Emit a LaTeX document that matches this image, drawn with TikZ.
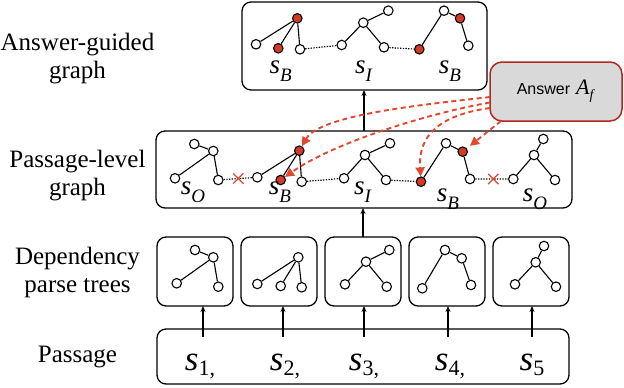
\documentclass[tikz,border=0pt]{standalone}
\usepackage{fontspec}
\setmainfont{Liberation Serif}
\newfontfamily\ansfont{Liberation Sans}
\usetikzlibrary{arrows.meta,shapes.misc}
\definecolor{nodered}{RGB}{214,58,38}
\definecolor{dashred}{RGB}{226,72,46}
\definecolor{ansborder}{RGB}{178,40,30}
\definecolor{ansfill}{RGB}{217,217,217}
\newcommand\gsv[1]{{\fontsize{27}{27}\selectfont\textit{s}\raisebox{-8pt}{\fontsize{19}{19}\selectfont\textit{#1}}}}
\newcommand\psv[1]{{\fontsize{35}{35}\selectfont\textit{s}\raisebox{-5pt}{\fontsize{22}{22}\selectfont #1}}}
\tikzset{
  wn/.style={circle,draw,line width=1.1pt,fill=white,minimum size=9.5pt,inner sep=0pt},
  rn/.style={wn,fill=nodered},
  tedge/.style={line width=1.1pt},
  dlink/.style={line width=1.2pt,dash pattern=on 1.3pt off 1.4pt},
  xmark/.style={cross out,draw=dashred,line width=1.2pt,minimum size=9pt,inner sep=0pt},
  panel/.style={draw,line width=1.3pt,rounded corners=9pt,outer sep=0pt,inner sep=0pt},
  arr/.style={line width=1.2pt,-{Stealth[length=6pt,width=5pt]}},
  rarr/.style={dashred,line width=1.9pt,dash pattern=on 5pt off 3.5pt,-{Triangle[length=9pt,width=9pt]}},
  lbl/.style={align=center,font=\fontsize{25}{28}\selectfont,inner sep=0pt},
  glbl/.style={anchor=base,inner sep=0pt},
}
\begin{document}
\begin{tikzpicture}[x=1pt,y=-1pt]
\useasboundingbox (0,0) rectangle (624,388);
% left labels
\node[lbl] (l1) at (77.5,59) {Answer-guided\\graph};
\node[lbl] (l2) at (77.5,176) {Passage-level\\graph};
\node[lbl] (l3) at (77.5,272) {Dependency\\parse trees};
\node[lbl] (l4) at (77.5,357) {Passage};
% panels
\node[panel,minimum width=245pt,minimum height=88pt] (top) at (364.5,46) {};
\node[panel,minimum width=416pt,minimum height=77pt] (pg) at (364,169.5) {};
\foreach \i/\cx in {1/195,2/279,3/363,4/447,5/531}
  \node[panel,minimum width=76pt,minimum height=69pt] (t\i) at (\cx,271.5) {};
\node[panel,minimum width=412pt,minimum height=55pt] (pas) at (363,356.5) {};
\node[draw=ansborder,fill=ansfill,line width=1.5pt,rounded corners=12pt,minimum width=132pt,minimum height=59pt,outer sep=0pt] (ans) at (556,91.5)
  {{\ansfont\fontsize{16}{16}\selectfont Answer}\hspace{6pt}{\fontsize{22}{22}\selectfont\textit{A}\raisebox{-5pt}{\fontsize{14}{14}\selectfont\textit{f}}}};
% passage labels
\node[glbl] (p1) at (200,370.7) {\psv{1,}};
\node[glbl] (p2) at (285,370.7) {\psv{2,}};
\node[glbl] (p3) at (364,370.7) {\psv{3,}};
\node[glbl] (p4) at (450,370.7) {\psv{4,}};
\node[glbl] (p5) at (532,370.7) {\psv{5}};
% arrows passage -> trees
\foreach \i/\ax in {1/203,2/283,3/364,4/448,5/532}{
  \coordinate (c\i) at (\ax,337);
  \draw[arr] (c\i) -- (c\i |- t\i.south);
}
% dependency trees
% tree 1
\node[wn] (d1a) at (195,250) {};
\node[wn] (d1b) at (213.3,257.3) {};
\node[wn] (d1c) at (176.7,283.3) {};
\node[wn] (d1d) at (218.3,286.7) {};
\draw[tedge] (d1a)--(d1b) (d1b)--(d1c) (d1b)--(d1d);
% tree 2
\node[wn] (d2a) at (298.3,257.3) {};
\node[wn] (d2b) at (257.3,284) {};
\node[wn] (d2c) at (280.7,286) {};
\node[wn] (d2d) at (301.7,287.3) {};
\draw[tedge] (d2a)--(d2b) (d2a)--(d2c) (d2a)--(d2d);
% tree 3
\node[wn] (d3a) at (389.3,250) {};
\node[wn] (d3b) at (366,261.7) {};
\node[wn] (d3c) at (345,284.3) {};
\node[wn] (d3d) at (386.7,286.7) {};
\draw[tedge] (d3a)--(d3b) (d3b)--(d3c) (d3b)--(d3d);
% tree 4
\node[wn] (d4a) at (445,250) {};
\node[wn] (d4b) at (461.7,258.3) {};
\node[wn] (d4c) at (422.3,288.3) {};
\node[wn] (d4d) at (471,285) {};
\draw[tedge] (d4a)--(d4b) (d4a)--(d4c) (d4b)--(d4d);
% tree 5
\node[wn] (d5a) at (544,246) {};
\node[wn] (d5b) at (535.7,262.3) {};
\node[wn] (d5c) at (515,284.3) {};
\node[wn] (d5d) at (556,286.7) {};
\draw[tedge] (d5a)--(d5b) (d5b)--(d5c) (d5b)--(d5d);
% arrows up
\draw[arr] (t3.north) -- (t3.north |- pg.south);
\draw[arr] (pg.north) -- (pg.north |- top.south);
% passage-level graph
\node[wn] (o1a) at (194.3,144) {};
\node[wn] (o1b) at (213.3,151) {};
\node[wn] (o1c) at (175,178.3) {};
\node[wn] (o1d) at (218.3,180) {};
\draw[tedge] (o1a)--(o1b) (o1b)--(o1c) (o1b)--(o1d);
\node[rn] (b1a) at (299.3,150.7) {};
\node[wn] (b1b) at (257.3,177.3) {};
\node[rn] (b1c) at (280.7,180) {};
\node[wn] (b1d) at (301.7,181.7) {};
\draw[tedge] (b1a)--(b1b) (b1a)--(b1c) (b1a)--(b1d);
\node[wn] (i1a) at (390,143.3) {};
\node[wn] (i1b) at (365,155) {};
\node[wn] (i1c) at (344,178.3) {};
\node[wn] (i1d) at (386,180) {};
\draw[tedge] (i1a)--(i1b) (i1b)--(i1c) (i1b)--(i1d);
\node[wn] (b2a) at (446,143.3) {};
\node[rn] (b2b) at (462.7,151.7) {};
\node[rn] (b2c) at (421,181.7) {};
\node[wn] (b2d) at (470,179) {};
\draw[tedge] (b2a)--(b2b) (b2a)--(b2c) (b2b)--(b2d);
\node[wn] (o2a) at (543.3,139) {};
\node[wn] (o2b) at (534,155) {};
\node[wn] (o2c) at (513.3,179) {};
\node[wn] (o2d) at (555,180) {};
\draw[tedge] (o2a)--(o2b) (o2b)--(o2c) (o2b)--(o2d);
\draw[dlink] (o1d)--(b1b) (b1d)--(i1c) (i1d)--(b2c) (b2d)--(o2c);
\node[xmark] (x1) at (238.3,178.5) {};
\node[xmark] (x2) at (493.3,179) {};
\node[glbl] (g1) at (193,194) {\gsv{O}};
\node[glbl] (g2) at (280,194) {\gsv{B}};
\node[glbl] (g3) at (363,194) {\gsv{I}};
\node[glbl] (g4) at (448,201) {\gsv{B}};
\node[glbl] (g5) at (535,201) {\gsv{O}};
% answer-guided graph
\node[rn] (a1a) at (297.3,18.3) {};
\node[wn] (a1b) at (256,44.3) {};
\node[rn] (a1c) at (278.3,48.3) {};
\node[wn] (a1d) at (300,49.3) {};
\draw[tedge] (a1a)--(a1b) (a1a)--(a1c) (a1a)--(a1d);
\node[wn] (a2a) at (388.3,10.7) {};
\node[wn] (a2b) at (363.3,22.7) {};
\node[wn] (a2c) at (341.7,45) {};
\node[wn] (a2d) at (384,47.3) {};
\draw[tedge] (a2a)--(a2b) (a2b)--(a2c) (a2b)--(a2d);
\node[wn] (a3a) at (444,10.7) {};
\node[rn] (a3b) at (460,18.3) {};
\node[wn] (a3c) at (468.3,45.7) {};
\node[rn] (a3d) at (419.3,49.3) {};
\draw[tedge] (a3a)--(a3d) (a3a)--(a3b) (a3b)--(a3c);
\draw[dlink] (a1d)--(a2c) (a2d)--(a3d);
\node[glbl] (h1) at (280.7,73.5) {\gsv{B}};
\node[glbl] (h2) at (364,73.5) {\gsv{I}};
\node[glbl] (h3) at (450,73.5) {\gsv{B}};
% red dashed arrows from answer
\coordinate (r1) at (490,97);
\coordinate (r2) at (490,102.5);
\coordinate (r3) at (490,108);
\coordinate (r4) at (501,121);
\draw[rarr] (r1) .. controls (420,105) and (320,115) .. (b1a);
\draw[rarr] (r2) .. controls (420,115) and (330,145) .. (b1c);
\draw[rarr] (r3) .. controls (440,115) and (418,135) .. (b2c);
\draw[rarr,shorten >=4pt] (r4) -- (b2b);
\end{tikzpicture}
\end{document}
